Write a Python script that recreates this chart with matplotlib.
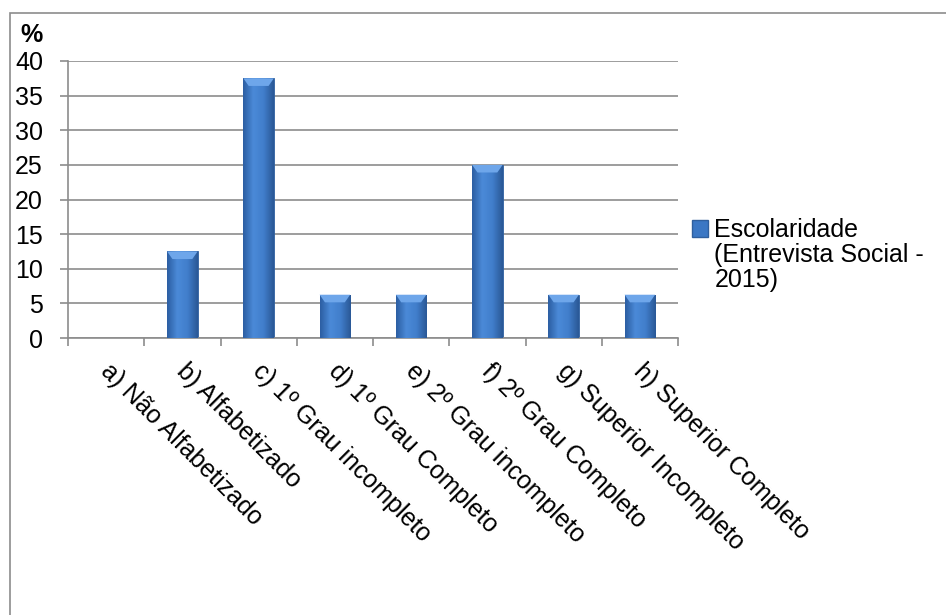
import matplotlib.pyplot as plt
import numpy as np
from matplotlib.patches import Rectangle, Polygon
from matplotlib.colors import LinearSegmentedColormap

plt.rcParams['font.family'] = ['Liberation Sans', 'DejaVu Sans']

categories = ['a) Não Alfabetizado',
              'b) Alfabetizado',
              'c) 1º Grau incompleto',
              'd) 1º Grau Completo',
              'e) 2º Grau incompleto',
              'f) 2º Grau Completo',
              'g) Superior Incompleto',
              'h) Superior Completo']
values = [0, 12.5, 37.5, 6.25, 6.25, 25, 6.25, 6.25]
legend_lines = ['Escolaridade', '(Entrevista Social -', '2015)']
yticks = [0, 5, 10, 15, 20, 25, 30, 35, 40]

fs = 18
fig = plt.figure(figsize=(9.46, 6.15), dpi=100)
ax = fig.add_axes([68 / 946, 1 - 338 / 615, 610 / 946, 277 / 615])

# outer chart frame (left and top edges visible)
fig.patches.append(Rectangle((10 / 946, -0.1), 1.2, 1 - 13 / 615 + 0.1,
                             transform=fig.transFigure, fill=False,
                             edgecolor='#8c8c8c', linewidth=1.2, zorder=0))

x = np.arange(len(categories))
bar_w = 0.4
base = '#3b77c4'
bars = ax.bar(x, values, width=bar_w, color=base, edgecolor='#2f5f9e',
              linewidth=0.6, zorder=2)

# cylinder-like horizontal shading for each bar
cmap = LinearSegmentedColormap.from_list(
    'shade', ['#2c5ea2', '#4b8ad8', '#417ecb', '#2a5896'])
grad = np.linspace(0, 1, 64).reshape(1, -1)
for b in bars:
    h = b.get_height()
    if h <= 0:
        continue
    x0 = b.get_x()
    w = b.get_width()
    im = ax.imshow(grad, cmap=cmap, aspect='auto', zorder=3,
                   extent=[x0, x0 + w, 0, h], interpolation='bicubic')
    im.set_clip_path(b)
    # lighter bevel at the top
    bh = 1.1
    ax.add_patch(Polygon([[x0, h], [x0 + w, h], [x0 + w - 0.07, h - bh],
                          [x0 + 0.07, h - bh]], closed=True,
                         facecolor='#6ea6ea', edgecolor='none', zorder=4))

ax.set_xlim(-0.5, len(categories) - 0.5)
ax.set_ylim(0, 40)
ax.set_yticks(yticks)
ax.set_yticklabels([str(t) for t in yticks], fontsize=fs)
ax.yaxis.grid(True, color='#8c8c8c', linewidth=1.2, zorder=0)
ax.set_axisbelow(True)

ax.set_xticks(np.arange(len(categories) + 1) - 0.5)
ax.set_xticklabels([])
ax.tick_params(axis='x', length=6, color='#8c8c8c', width=1.2)
ax.tick_params(axis='y', length=6, color='#8c8c8c', width=1.2, pad=12)

for s in ['top', 'right']:
    ax.spines[s].set_visible(False)
for s in ['left', 'bottom']:
    ax.spines[s].set_color('#8c8c8c')
    ax.spines[s].set_linewidth(1.2)

for i, lab in enumerate(categories):
    ax.annotate(lab, xy=(i, 0), xycoords='data', xytext=(-1.5, -21),
                textcoords='offset points', rotation=-45,
                rotation_mode='anchor', ha='left', va='center',
                fontsize=fs)

fig.text(20 / 946, 1 - 35 / 615, '%', fontsize=fs, fontweight='bold',
         va='center', ha='left')

# legend: marker beside first line only
handles = [Rectangle((0, 0), 1, 1, facecolor=base, edgecolor='#2f5f9e')]
handles += [Rectangle((0, 0), 1, 1, alpha=0) for _ in legend_lines[1:]]
leg = ax.legend(handles, legend_lines, loc='upper left',
                bbox_to_anchor=(692 / 946, 1 - 218 / 615),
                bbox_transform=fig.transFigure, frameon=False, fontsize=fs,
                handlelength=0.65, handleheight=0.65, handletextpad=0.25,
                labelspacing=0.05, borderaxespad=0, borderpad=0)

fig.savefig('out.png', dpi=100)
